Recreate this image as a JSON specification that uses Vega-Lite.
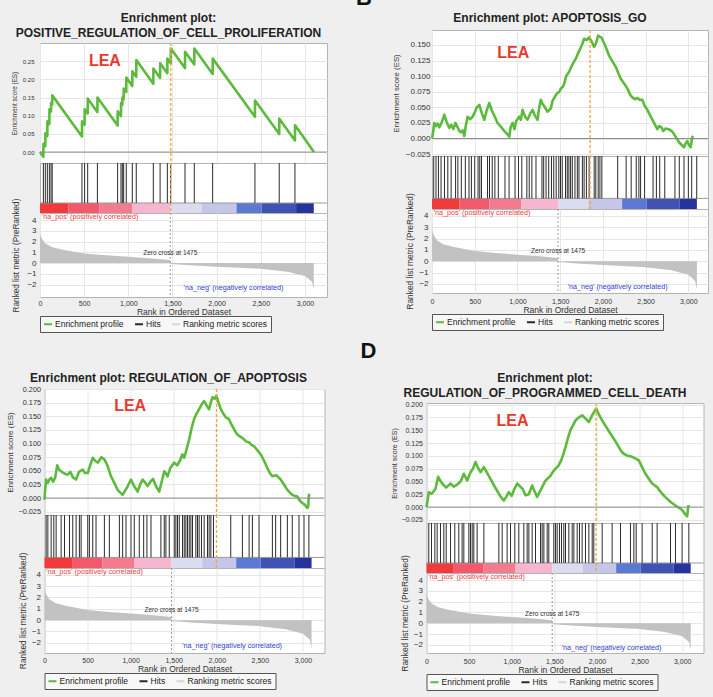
{
  "$schema": "https://vega.github.io/schema/vega-lite/v6.json",
  "background": "#efefef",
  "padding": {"left": 6, "top": -13, "right": 4, "bottom": 12},
  "spacing": 7,
  "center": true,
  "datasets": {
    "es": [
      {"panel":"A","rank":0,"es":0},{"panel":"A","rank":38,"es":-0.013},{"panel":"A","rank":39,"es":0.023},{"panel":"A","rank":60,"es":0.016},{"panel":"A","rank":61,"es":0.052},{"panel":"A","rank":83,"es":0.044},{"panel":"A","rank":84,"es":0.085},{"panel":"A","rank":106,"es":0.077},{"panel":"A","rank":107,"es":0.118},{"panel":"A","rank":125,"es":0.112},{"panel":"A","rank":126,"es":0.135},{"panel":"A","rank":138,"es":0.131},{"panel":"A","rank":139,"es":0.156},{"panel":"A","rank":475,"es":0.043},{"panel":"A","rank":476,"es":0.085},{"panel":"A","rank":505,"es":0.075},{"panel":"A","rank":506,"es":0.118},{"panel":"A","rank":540,"es":0.106},{"panel":"A","rank":541,"es":0.147},{"panel":"A","rank":650,"es":0.110},{"panel":"A","rank":651,"es":0.150},{"panel":"A","rank":879,"es":0.073},{"panel":"A","rank":880,"es":0.112},{"panel":"A","rank":917,"es":0.099},{"panel":"A","rank":918,"es":0.135},{"panel":"A","rank":932,"es":0.130},{"panel":"A","rank":933,"es":0.150},{"panel":"A","rank":947,"es":0.145},{"panel":"A","rank":948,"es":0.175},{"panel":"A","rank":977,"es":0.165},{"panel":"A","rank":978,"es":0.205},{"panel":"A","rank":1045,"es":0.182},{"panel":"A","rank":1046,"es":0.222},{"panel":"A","rank":1090,"es":0.207},{"panel":"A","rank":1091,"es":0.253},{"panel":"A","rank":1283,"es":0.188},{"panel":"A","rank":1284,"es":0.230},{"panel":"A","rank":1360,"es":0.204},{"panel":"A","rank":1361,"es":0.244},{"panel":"A","rank":1442,"es":0.217},{"panel":"A","rank":1443,"es":0.257},{"panel":"A","rank":1480,"es":0.244},{"panel":"A","rank":1481,"es":0.285},{"panel":"A","rank":1642,"es":0.231},{"panel":"A","rank":1643,"es":0.276},{"panel":"A","rank":1747,"es":0.241},{"panel":"A","rank":1748,"es":0.285},{"panel":"A","rank":1955,"es":0.215},{"panel":"A","rank":1956,"es":0.257},{"panel":"A","rank":2434,"es":0.097},{"panel":"A","rank":2435,"es":0.142},{"panel":"A","rank":2709,"es":0.050},{"panel":"A","rank":2710,"es":0.092},{"panel":"A","rank":2887,"es":0.032},{"panel":"A","rank":2888,"es":0.074},{"panel":"A","rank":3102,"es":0.0},
      {"panel":"B","rank":0,"es":0},{"panel":"B","rank":15,"es":0.012},{"panel":"B","rank":27,"es":0.025},{"panel":"B","rank":45,"es":0.02},{"panel":"B","rank":66,"es":0.024},{"panel":"B","rank":85,"es":0.018},{"panel":"B","rank":105,"es":0.023},{"panel":"B","rank":125,"es":0.03},{"panel":"B","rank":144,"es":0.038},{"panel":"B","rank":170,"es":0.027},{"panel":"B","rank":203,"es":0.017},{"panel":"B","rank":225,"es":0.022},{"panel":"B","rank":250,"es":0.015},{"panel":"B","rank":275,"es":0.025},{"panel":"B","rank":300,"es":0.018},{"panel":"B","rank":320,"es":0.012},{"panel":"B","rank":339,"es":0.01},{"panel":"B","rank":360,"es":0.013},{"panel":"B","rank":378,"es":0.004},{"panel":"B","rank":395,"es":0.02},{"panel":"B","rank":417,"es":0.035},{"panel":"B","rank":445,"es":0.031},{"panel":"B","rank":475,"es":0.035},{"panel":"B","rank":500,"es":0.042},{"panel":"B","rank":525,"es":0.05},{"panel":"B","rank":553,"es":0.054},{"panel":"B","rank":585,"es":0.04},{"panel":"B","rank":612,"es":0.03},{"panel":"B","rank":640,"es":0.045},{"panel":"B","rank":670,"es":0.057},{"panel":"B","rank":700,"es":0.045},{"panel":"B","rank":735,"es":0.035},{"panel":"B","rank":767,"es":0.025},{"panel":"B","rank":800,"es":0.02},{"panel":"B","rank":840,"es":0.013},{"panel":"B","rank":875,"es":0.008},{"panel":"B","rank":904,"es":0.003},{"panel":"B","rank":920,"es":0.018},{"panel":"B","rank":943,"es":0.025},{"panel":"B","rank":965,"es":0.015},{"panel":"B","rank":985,"es":0.028},{"panel":"B","rank":1021,"es":0.035},{"panel":"B","rank":1040,"es":0.03},{"panel":"B","rank":1060,"es":0.046},{"panel":"B","rank":1090,"es":0.035},{"panel":"B","rank":1118,"es":0.03},{"panel":"B","rank":1150,"es":0.04},{"panel":"B","rank":1176,"es":0.046},{"panel":"B","rank":1200,"es":0.038},{"panel":"B","rank":1235,"es":0.03},{"panel":"B","rank":1255,"es":0.05},{"panel":"B","rank":1274,"es":0.062},{"panel":"B","rank":1295,"es":0.055},{"panel":"B","rank":1313,"es":0.052},{"panel":"B","rank":1350,"es":0.043},{"panel":"B","rank":1391,"es":0.048},{"panel":"B","rank":1410,"es":0.06},{"panel":"B","rank":1430,"es":0.065},{"panel":"B","rank":1460,"es":0.072},{"panel":"B","rank":1490,"es":0.075},{"panel":"B","rank":1508,"es":0.08},{"panel":"B","rank":1530,"es":0.083},{"panel":"B","rank":1547,"es":0.088},{"panel":"B","rank":1570,"es":0.1},{"panel":"B","rank":1605,"es":0.107},{"panel":"B","rank":1640,"es":0.118},{"panel":"B","rank":1683,"es":0.128},{"panel":"B","rank":1710,"es":0.137},{"panel":"B","rank":1741,"es":0.146},{"panel":"B","rank":1760,"es":0.152},{"panel":"B","rank":1780,"es":0.16},{"panel":"B","rank":1810,"es":0.158},{"panel":"B","rank":1839,"es":0.162},{"panel":"B","rank":1870,"es":0.155},{"panel":"B","rank":1897,"es":0.147},{"panel":"B","rank":1920,"es":0.153},{"panel":"B","rank":1944,"es":0.165},{"panel":"B","rank":1965,"es":0.163},{"panel":"B","rank":1983,"es":0.162},{"panel":"B","rank":2030,"es":0.148},{"panel":"B","rank":2072,"es":0.133},{"panel":"B","rank":2110,"es":0.124},{"panel":"B","rank":2150,"es":0.115},{"panel":"B","rank":2180,"es":0.105},{"panel":"B","rank":2209,"es":0.096},{"panel":"B","rank":2250,"es":0.088},{"panel":"B","rank":2287,"es":0.08},{"panel":"B","rank":2320,"es":0.07},{"panel":"B","rank":2345,"es":0.066},{"panel":"B","rank":2375,"es":0.063},{"panel":"B","rank":2404,"es":0.065},{"panel":"B","rank":2430,"es":0.062},{"panel":"B","rank":2462,"es":0.062},{"panel":"B","rank":2490,"es":0.052},{"panel":"B","rank":2520,"es":0.046},{"panel":"B","rank":2580,"es":0.03},{"panel":"B","rank":2637,"es":0.015},{"panel":"B","rank":2660,"es":0.02},{"panel":"B","rank":2685,"es":0.018},{"panel":"B","rank":2705,"es":0.012},{"panel":"B","rank":2735,"es":0.016},{"panel":"B","rank":2770,"es":0.015},{"panel":"B","rank":2813,"es":0.011},{"panel":"B","rank":2850,"es":0.003},{"panel":"B","rank":2891,"es":-0.006},{"panel":"B","rank":2920,"es":-0.01},{"panel":"B","rank":2949,"es":-0.014},{"panel":"B","rank":2968,"es":-0.008},{"panel":"B","rank":2988,"es":-0.004},{"panel":"B","rank":3005,"es":-0.01},{"panel":"B","rank":3027,"es":-0.014},{"panel":"B","rank":3045,"es":0.002},{"panel":"B","rank":3058,"es":0.004},
      {"panel":"C","rank":0,"es":-0.003},{"panel":"C","rank":5,"es":0.01},{"panel":"C","rank":19,"es":0.034},{"panel":"C","rank":40,"es":0.028},{"panel":"C","rank":60,"es":0.035},{"panel":"C","rank":77,"es":0.037},{"panel":"C","rank":100,"es":0.03},{"panel":"C","rank":125,"es":0.038},{"panel":"C","rank":147,"es":0.06},{"panel":"C","rank":170,"es":0.052},{"panel":"C","rank":193,"es":0.049},{"panel":"C","rank":230,"es":0.045},{"panel":"C","rank":270,"es":0.043},{"panel":"C","rank":300,"es":0.048},{"panel":"C","rank":330,"es":0.038},{"panel":"C","rank":367,"es":0.034},{"panel":"C","rank":400,"es":0.048},{"panel":"C","rank":444,"es":0.052},{"panel":"C","rank":470,"es":0.046},{"panel":"C","rank":502,"es":0.046},{"panel":"C","rank":530,"es":0.06},{"panel":"C","rank":560,"es":0.074},{"panel":"C","rank":590,"es":0.068},{"panel":"C","rank":620,"es":0.065},{"panel":"C","rank":660,"es":0.075},{"panel":"C","rank":695,"es":0.071},{"panel":"C","rank":730,"es":0.06},{"panel":"C","rank":772,"es":0.04},{"panel":"C","rank":810,"es":0.028},{"panel":"C","rank":849,"es":0.015},{"panel":"C","rank":880,"es":0.01},{"panel":"C","rank":907,"es":0.006},{"panel":"C","rank":940,"es":0.015},{"panel":"C","rank":960,"es":0.02},{"panel":"C","rank":1004,"es":0.034},{"panel":"C","rank":1040,"es":0.022},{"panel":"C","rank":1081,"es":0.012},{"panel":"C","rank":1110,"es":0.025},{"panel":"C","rank":1139,"es":0.034},{"panel":"C","rank":1170,"es":0.028},{"panel":"C","rank":1197,"es":0.022},{"panel":"C","rank":1230,"es":0.03},{"panel":"C","rank":1260,"es":0.035},{"panel":"C","rank":1300,"es":0.02},{"panel":"C","rank":1332,"es":0.012},{"panel":"C","rank":1360,"es":0.03},{"panel":"C","rank":1390,"es":0.049},{"panel":"C","rank":1410,"es":0.045},{"panel":"C","rank":1429,"es":0.04},{"panel":"C","rank":1460,"es":0.055},{"panel":"C","rank":1506,"es":0.065},{"panel":"C","rank":1540,"es":0.06},{"panel":"C","rank":1570,"es":0.068},{"panel":"C","rank":1600,"es":0.08},{"panel":"C","rank":1622,"es":0.074},{"panel":"C","rank":1650,"es":0.09},{"panel":"C","rank":1680,"es":0.108},{"panel":"C","rank":1710,"es":0.13},{"panel":"C","rank":1737,"es":0.145},{"panel":"C","rank":1765,"es":0.155},{"panel":"C","rank":1795,"es":0.163},{"panel":"C","rank":1825,"es":0.172},{"panel":"C","rank":1853,"es":0.178},{"panel":"C","rank":1880,"es":0.17},{"panel":"C","rank":1911,"es":0.163},{"panel":"C","rank":1930,"es":0.175},{"panel":"C","rank":1950,"es":0.185},{"panel":"C","rank":1975,"es":0.182},{"panel":"C","rank":1995,"es":0.188},{"panel":"C","rank":2020,"es":0.175},{"panel":"C","rank":2046,"es":0.163},{"panel":"C","rank":2075,"es":0.155},{"panel":"C","rank":2104,"es":0.148},{"panel":"C","rank":2140,"es":0.145},{"panel":"C","rank":2170,"es":0.135},{"panel":"C","rank":2201,"es":0.126},{"panel":"C","rank":2230,"es":0.118},{"panel":"C","rank":2259,"es":0.114},{"panel":"C","rank":2300,"es":0.11},{"panel":"C","rank":2340,"es":0.104},{"panel":"C","rank":2375,"es":0.102},{"panel":"C","rank":2400,"es":0.098},{"panel":"C","rank":2432,"es":0.095},{"panel":"C","rank":2470,"es":0.088},{"panel":"C","rank":2510,"es":0.08},{"panel":"C","rank":2550,"es":0.068},{"panel":"C","rank":2587,"es":0.055},{"panel":"C","rank":2620,"es":0.045},{"panel":"C","rank":2645,"es":0.04},{"panel":"C","rank":2690,"es":0.042},{"panel":"C","rank":2741,"es":0.034},{"panel":"C","rank":2780,"es":0.025},{"panel":"C","rank":2819,"es":0.015},{"panel":"C","rank":2850,"es":0.01},{"panel":"C","rank":2876,"es":0.006},{"panel":"C","rank":2905,"es":0.004},{"panel":"C","rank":2934,"es":0.003},{"panel":"C","rank":2960,"es":-0.004},{"panel":"C","rank":2992,"es":-0.009},{"panel":"C","rank":3020,"es":-0.012},{"panel":"C","rank":3050,"es":-0.018},{"panel":"C","rank":3060,"es":-0.016},{"panel":"C","rank":3069,"es":0.006},{"panel":"C","rank":3080,"es":0.004},
      {"panel":"D","rank":0,"es":0},{"panel":"D","rank":27,"es":0.029},{"panel":"D","rank":60,"es":0.026},{"panel":"D","rank":80,"es":0.03},{"panel":"D","rank":106,"es":0.036},{"panel":"D","rank":137,"es":0.059},{"panel":"D","rank":160,"es":0.052},{"panel":"D","rank":184,"es":0.046},{"panel":"D","rank":230,"es":0.038},{"panel":"D","rank":282,"es":0.046},{"panel":"D","rank":320,"es":0.04},{"panel":"D","rank":360,"es":0.044},{"panel":"D","rank":400,"es":0.05},{"panel":"D","rank":438,"es":0.065},{"panel":"D","rank":477,"es":0.052},{"panel":"D","rank":516,"es":0.068},{"panel":"D","rank":545,"es":0.075},{"panel":"D","rank":575,"es":0.088},{"panel":"D","rank":600,"es":0.078},{"panel":"D","rank":634,"es":0.068},{"panel":"D","rank":673,"es":0.078},{"panel":"D","rank":700,"es":0.07},{"panel":"D","rank":750,"es":0.055},{"panel":"D","rank":800,"es":0.04},{"panel":"D","rank":849,"es":0.026},{"panel":"D","rank":880,"es":0.018},{"panel":"D","rank":907,"es":0.013},{"panel":"D","rank":935,"es":0.02},{"panel":"D","rank":966,"es":0.029},{"panel":"D","rank":1000,"es":0.022},{"panel":"D","rank":1030,"es":0.035},{"panel":"D","rank":1064,"es":0.046},{"panel":"D","rank":1100,"es":0.04},{"panel":"D","rank":1130,"es":0.035},{"panel":"D","rank":1162,"es":0.023},{"panel":"D","rank":1200,"es":0.025},{"panel":"D","rank":1240,"es":0.042},{"panel":"D","rank":1270,"es":0.03},{"panel":"D","rank":1298,"es":0.02},{"panel":"D","rank":1330,"es":0.03},{"panel":"D","rank":1357,"es":0.039},{"panel":"D","rank":1390,"es":0.05},{"panel":"D","rank":1416,"es":0.055},{"panel":"D","rank":1450,"es":0.06},{"panel":"D","rank":1480,"es":0.068},{"panel":"D","rank":1513,"es":0.075},{"panel":"D","rank":1545,"es":0.08},{"panel":"D","rank":1572,"es":0.088},{"panel":"D","rank":1600,"es":0.1},{"panel":"D","rank":1631,"es":0.117},{"panel":"D","rank":1660,"es":0.135},{"panel":"D","rank":1689,"es":0.15},{"panel":"D","rank":1720,"es":0.16},{"panel":"D","rank":1748,"es":0.169},{"panel":"D","rank":1790,"es":0.175},{"panel":"D","rank":1826,"es":0.179},{"panel":"D","rank":1870,"es":0.172},{"panel":"D","rank":1905,"es":0.166},{"panel":"D","rank":1940,"es":0.178},{"panel":"D","rank":1965,"es":0.185},{"panel":"D","rank":1990,"es":0.192},{"panel":"D","rank":2025,"es":0.18},{"panel":"D","rank":2061,"es":0.169},{"panel":"D","rank":2110,"es":0.156},{"panel":"D","rank":2159,"es":0.143},{"panel":"D","rank":2210,"es":0.13},{"panel":"D","rank":2257,"es":0.117},{"panel":"D","rank":2290,"es":0.108},{"panel":"D","rank":2315,"es":0.104},{"panel":"D","rank":2360,"es":0.1},{"panel":"D","rank":2413,"es":0.098},{"panel":"D","rank":2450,"es":0.095},{"panel":"D","rank":2491,"es":0.091},{"panel":"D","rank":2530,"es":0.078},{"panel":"D","rank":2569,"es":0.065},{"panel":"D","rank":2610,"es":0.055},{"panel":"D","rank":2648,"es":0.046},{"panel":"D","rank":2680,"es":0.042},{"panel":"D","rank":2706,"es":0.039},{"panel":"D","rank":2735,"es":0.032},{"panel":"D","rank":2765,"es":0.026},{"panel":"D","rank":2800,"es":0.02},{"panel":"D","rank":2843,"es":0.013},{"panel":"D","rank":2880,"es":0.008},{"panel":"D","rank":2921,"es":0.003},{"panel":"D","rank":2950,"es":0.0},{"panel":"D","rank":2980,"es":-0.003},{"panel":"D","rank":3010,"es":-0.008},{"panel":"D","rank":3040,"es":-0.015},{"panel":"D","rank":3058,"es":-0.018},{"panel":"D","rank":3070,"es":0.0},{"panel":"D","rank":3078,"es":0.004}
    ],
    "hits": [
      {"panel":"A","rank":38},{"panel":"A","rank":60},{"panel":"A","rank":83},{"panel":"A","rank":106},{"panel":"A","rank":125},{"panel":"A","rank":138},{"panel":"A","rank":475},{"panel":"A","rank":505},{"panel":"A","rank":540},{"panel":"A","rank":650},{"panel":"A","rank":879},{"panel":"A","rank":917},{"panel":"A","rank":932},{"panel":"A","rank":947},{"panel":"A","rank":977},{"panel":"A","rank":1045},{"panel":"A","rank":1090},{"panel":"A","rank":1283},{"panel":"A","rank":1360},{"panel":"A","rank":1442},{"panel":"A","rank":1480},{"panel":"A","rank":1642},{"panel":"A","rank":1747},{"panel":"A","rank":1955},{"panel":"A","rank":2434},{"panel":"A","rank":2709},{"panel":"A","rank":2887},
      {"panel":"B","rank":20},{"panel":"B","rank":47},{"panel":"B","rank":75},{"panel":"B","rank":106},{"panel":"B","rank":146},{"panel":"B","rank":185},{"panel":"B","rank":224},{"panel":"B","rank":276},{"panel":"B","rank":303},{"panel":"B","rank":343},{"panel":"B","rank":390},{"panel":"B","rank":433},{"panel":"B","rank":461},{"panel":"B","rank":500},{"panel":"B","rank":539},{"panel":"B","rank":559},{"panel":"B","rank":579},{"panel":"B","rank":650},{"panel":"B","rank":673},{"panel":"B","rank":705},{"panel":"B","rank":736},{"panel":"B","rank":776},{"panel":"B","rank":854},{"panel":"B","rank":902},{"panel":"B","rank":972},{"panel":"B","rank":1012},{"panel":"B","rank":1051},{"panel":"B","rank":1110},{"panel":"B","rank":1138},{"panel":"B","rank":1169},{"panel":"B","rank":1217},{"panel":"B","rank":1287},{"panel":"B","rank":1307},{"panel":"B","rank":1335},{"panel":"B","rank":1366},{"panel":"B","rank":1398},{"panel":"B","rank":1425},{"panel":"B","rank":1453},{"panel":"B","rank":1484},{"panel":"B","rank":1504},{"panel":"B","rank":1524},{"panel":"B","rank":1563},{"panel":"B","rank":1583},{"panel":"B","rank":1602},{"panel":"B","rank":1622},{"panel":"B","rank":1642},{"panel":"B","rank":1673},{"panel":"B","rank":1701},{"panel":"B","rank":1720},{"panel":"B","rank":1760},{"panel":"B","rank":1780},{"panel":"B","rank":1807},{"panel":"B","rank":1839},{"panel":"B","rank":1898},{"panel":"B","rank":1917},{"panel":"B","rank":1945},{"panel":"B","rank":1965},{"panel":"B","rank":1988},{"panel":"B","rank":2173},{"panel":"B","rank":2272},{"panel":"B","rank":2331},{"panel":"B","rank":2390},{"panel":"B","rank":2421},{"panel":"B","rank":2441},{"panel":"B","rank":2488},{"panel":"B","rank":2587},{"panel":"B","rank":2626},{"panel":"B","rank":2665},{"panel":"B","rank":2724},{"panel":"B","rank":2843},{"panel":"B","rank":2894},{"panel":"B","rank":2949},{"panel":"B","rank":3000},{"panel":"B","rank":3039},{"panel":"B","rank":3098},
      {"panel":"C","rank":19},{"panel":"C","rank":39},{"panel":"C","rank":77},{"panel":"C","rank":108},{"panel":"C","rank":135},{"panel":"C","rank":193},{"panel":"C","rank":232},{"panel":"C","rank":290},{"panel":"C","rank":328},{"panel":"C","rank":367},{"panel":"C","rank":405},{"panel":"C","rank":425},{"panel":"C","rank":502},{"panel":"C","rank":521},{"panel":"C","rank":560},{"panel":"C","rank":598},{"panel":"C","rank":695},{"panel":"C","rank":753},{"panel":"C","rank":869},{"panel":"C","rank":907},{"panel":"C","rank":946},{"panel":"C","rank":1004},{"panel":"C","rank":1042},{"panel":"C","rank":1100},{"panel":"C","rank":1151},{"panel":"C","rank":1189},{"panel":"C","rank":1236},{"panel":"C","rank":1351},{"panel":"C","rank":1390},{"panel":"C","rank":1409},{"panel":"C","rank":1448},{"panel":"C","rank":1506},{"panel":"C","rank":1525},{"panel":"C","rank":1544},{"panel":"C","rank":1564},{"panel":"C","rank":1602},{"panel":"C","rank":1622},{"panel":"C","rank":1641},{"panel":"C","rank":1660},{"panel":"C","rank":1680},{"panel":"C","rank":1699},{"panel":"C","rank":1718},{"panel":"C","rank":1757},{"panel":"C","rank":1776},{"panel":"C","rank":1795},{"panel":"C","rank":1822},{"panel":"C","rank":1853},{"panel":"C","rank":1892},{"panel":"C","rank":1911},{"panel":"C","rank":1931},{"panel":"C","rank":1961},{"panel":"C","rank":2162},{"panel":"C","rank":2297},{"panel":"C","rank":2375},{"panel":"C","rank":2413},{"panel":"C","rank":2490},{"panel":"C","rank":2645},{"panel":"C","rank":2683},{"panel":"C","rank":2741},{"panel":"C","rank":2819},{"panel":"C","rank":2876},{"panel":"C","rank":2954},{"panel":"C","rank":3012},{"panel":"C","rank":3069},
      {"panel":"D","rank":27},{"panel":"D","rank":59},{"panel":"D","rank":98},{"panel":"D","rank":125},{"panel":"D","rank":164},{"panel":"D","rank":203},{"panel":"D","rank":231},{"panel":"D","rank":282},{"panel":"D","rank":332},{"panel":"D","rank":379},{"panel":"D","rank":418},{"panel":"D","rank":438},{"panel":"D","rank":497},{"panel":"D","rank":516},{"panel":"D","rank":536},{"panel":"D","rank":555},{"panel":"D","rank":594},{"panel":"D","rank":673},{"panel":"D","rank":849},{"panel":"D","rank":888},{"panel":"D","rank":946},{"panel":"D","rank":986},{"panel":"D","rank":1036},{"panel":"D","rank":1083},{"panel":"D","rank":1142},{"panel":"D","rank":1181},{"panel":"D","rank":1201},{"panel":"D","rank":1240},{"panel":"D","rank":1279},{"panel":"D","rank":1338},{"panel":"D","rank":1357},{"panel":"D","rank":1377},{"panel":"D","rank":1416},{"panel":"D","rank":1435},{"panel":"D","rank":1494},{"panel":"D","rank":1513},{"panel":"D","rank":1533},{"panel":"D","rank":1560},{"panel":"D","rank":1584},{"panel":"D","rank":1611},{"panel":"D","rank":1631},{"panel":"D","rank":1670},{"panel":"D","rank":1709},{"panel":"D","rank":1729},{"panel":"D","rank":1768},{"panel":"D","rank":1795},{"panel":"D","rank":1826},{"panel":"D","rank":1865},{"panel":"D","rank":1905},{"panel":"D","rank":1944},{"panel":"D","rank":1963},{"panel":"D","rank":2061},{"panel":"D","rank":2178},{"panel":"D","rank":2276},{"panel":"D","rank":2393},{"panel":"D","rank":2433},{"panel":"D","rank":2460},{"panel":"D","rank":2530},{"panel":"D","rank":2648},{"panel":"D","rank":2706},{"panel":"D","rank":2863},{"panel":"D","rank":2921},{"panel":"D","rank":2999},{"panel":"D","rank":3078}
    ],
    "metric": [
      {"rank":0,"metric":2.8},{"rank":8,"metric":2.5},{"rank":19,"metric":2.3},{"rank":57,"metric":1.85},{"rank":132,"metric":1.5},{"rank":245,"metric":1.27},{"rank":500,"metric":0.9},{"rank":750,"metric":0.72},{"rank":1000,"metric":0.58},{"rank":1264,"metric":0.43},{"rank":1474,"metric":0.28},{"rank":1476,"metric":-0.08},{"rank":1700,"metric":-0.2},{"rank":2000,"metric":-0.34},{"rank":2500,"metric":-0.53},{"rank":2800,"metric":-0.8},{"rank":3000,"metric":-1.2},{"rank":3080,"metric":-1.74},{"rank":3100,"metric":-2.5}
    ],
    "bar": [
      {"start":0,"end":320,"level":1},{"start":320,"end":670,"level":2},{"start":670,"end":1045,"level":3},{"start":1045,"end":1475,"level":4},{"start":1475,"end":1830,"level":5},{"start":1830,"end":2225,"level":6},{"start":2225,"end":2510,"level":7},{"start":2510,"end":2900,"level":8},{"start":2900,"end":3100,"level":9}
    ]
  },
  "vconcat": [
    {
      "title": {"text": "B", "fontSize": 22, "color": "#111111", "dx": 4, "offset": 0},
      "spacing": 63,
      "resolve": {"scale": {"color": "independent"}, "legend": {"color": "independent"}},
      "hconcat": [
        {
          "bounds": "flush",
          "spacing": 0,
          "vconcat": [
            {"width": 287, "height": 33, "view": {"stroke": null, "fill": null}, "data": {"values": [{}]},
             "mark": {"type": "text", "text": ["Enrichment plot:", "POSITIVE_REGULATION_OF_CELL_PROLIFERATION"], "fontSize": 12, "fontWeight": "bold", "color": "#222222", "lineHeight": 15, "baseline": "middle", "dx": -15, "dy": -8.5}},
            {
              "width": 287, "height": 120,
              "layer": [
                {"data": {"name": "es"}, "transform": [{"filter": "datum.panel == 'A'"}],
                 "mark": {"type": "line", "strokeWidth": 2.6, "strokeJoin": "round"},
                 "encoding": {
                   "x": {"field": "rank", "type": "quantitative", "scale": {"domain": [0, 3250], "nice": false, "zero": false}, "axis": {"grid": true, "labels": false, "title": null, "tickCount": 30, "values": [0,500,1000,1500,2000,2500,3000]}},
                   "y": {"field": "es", "type": "quantitative", "scale": {"domain": [-0.03, 0.3], "nice": false, "zero": false}, "axis": {"values": [0,0.05,0.1,0.15,0.2,0.25], "tickCount": 30, "format": ".2f", "title": "Enrichment score (ES)", "labelFontSize": 6, "titleFontSize": 6.3, "labelPadding": 6, "titlePadding": 5, "grid": true}},
                   "color": {"datum": "Enrichment profile", "scale": {"domain": ["Enrichment profile","Hits","Ranking metric scores"], "range": ["#5cba3c","#2b2b2b","#d6d6d6"]}, "legend": {"title": null, "offset": 0}}
                 }},
                {"data": {"values": [{}]}, "mark": {"type": "rule", "color": "#8a8a8a"}, "encoding": {"y": {"datum": 0, "type": "quantitative"}}},
                {"data": {"values": [{}]}, "mark": {"type": "rule", "color": "#f5a53a", "strokeDash": [3,2], "strokeWidth": 1.3}, "encoding": {"x": {"datum": 1481, "type": "quantitative"}}},
                {"data": {"values": [{}]}, "mark": {"type": "text", "text": "LEA", "fontSize": 16, "fontWeight": "bold", "color": "#e8392c"}, "encoding": {"x": {"datum": 735, "type": "quantitative"}, "y": {"datum": 0.25, "type": "quantitative"}}}
              ]
            },
            {
              "width": 287, "height": 50,
              "layer": [
                {"data": {"name": "bar"}, "mark": {"type": "rect"},
                 "encoding": {
                   "x": {"field": "start", "type": "quantitative", "scale": {"domain": [0, 3250], "nice": false, "zero": false}, "axis": null},
                   "x2": {"field": "end"},
                   "y": {"datum": 0, "type": "quantitative", "scale": {"domain": [0, 1], "nice": false}, "axis": null},
                   "y2": {"datum": 0.2},
                   "fill": {"field": "level", "type": "ordinal", "scale": {"domain": [1,2,3,4,5,6,7,8,9], "range": ["#f03a3c","#f2596a","#f47b8e","#f6b6cf","#dcdcf0","#c6c6e8","#5b79d2","#4052b4","#26329e"]}, "legend": null}
                 }},
                {"data": {"values": [{}]}, "mark": {"type": "rule", "color": "#9a9a9a"}, "encoding": {"y": {"datum": 0.2, "type": "quantitative", "axis": null}}},
                {"data": {"name": "hits"}, "transform": [{"filter": "datum.panel == 'A'"}],
                 "mark": {"type": "rule", "strokeWidth": 1},
                 "encoding": {
                   "x": {"field": "rank", "type": "quantitative", "axis": null},
                   "y": {"datum": 0.2, "type": "quantitative", "axis": null},
                   "y2": {"datum": 1},
                   "color": {"datum": "Hits"}
                 }},
                {"data": {"values": [{}]}, "mark": {"type": "rule", "color": "#f5a53a", "strokeDash": [3,2], "strokeWidth": 1.3}, "encoding": {"x": {"datum": 1481, "type": "quantitative", "axis": null}}}
              ]
            },
            {
              "width": 287, "height": 84,
              "layer": [
                {"data": {"name": "metric"}, "mark": {"type": "area", "color": "#c2c2c2"},
                 "encoding": {
                   "x": {"field": "rank", "type": "quantitative", "scale": {"domain": [0, 3250], "nice": false, "zero": false}, "axis": {"values": [0,500,1000,1500,2000,2500,3000], "tickCount": 30, "format": ",.0f", "grid": true, "labelFontSize": 7, "labelPadding": 2, "title": "Rank in Ordered Dataset", "titleFontSize": 8.5, "titlePadding": 1}},
                   "y": {"field": "metric", "type": "quantitative", "scale": {"domain": [-3.15, 4.65], "nice": false, "zero": false}, "axis": {"values": [-2,-1,0,1,2,3,4], "tickCount": 30, "format": "d", "grid": true, "labelFontSize": 8, "labelPadding": 4, "title": "Ranked list metric (PreRanked)", "titleFontSize": 8.2, "titlePadding": 6}},
                   "y2": {"datum": 0}
                 }},
                {"data": {"values": [{}]}, "mark": {"type": "rule", "color": "#9a9a9a", "strokeDash": [2,2]}, "encoding": {"x": {"datum": 1475, "type": "quantitative"}}},
                {"data": {"values": [{}]}, "mark": {"type": "text", "text": "Zero cross at 1475", "fontSize": 6.5, "color": "#333333"}, "encoding": {"x": {"datum": 1475, "type": "quantitative"}, "y": {"datum": 0.93, "type": "quantitative"}}},
                {"data": {"values": [{}]}, "mark": {"type": "text", "text": "'na_pos' (positively correlated)", "align": "left", "fontSize": 7.2, "color": "#ee3b3b"}, "encoding": {"x": {"datum": 20, "type": "quantitative"}, "y": {"datum": 4.3, "type": "quantitative"}}},
                {"data": {"values": [{}]}, "mark": {"type": "text", "text": "'na_neg' (negatively correlated)", "align": "right", "fontSize": 7.2, "color": "#3340d0"}, "encoding": {"x": {"datum": 2757, "type": "quantitative"}, "y": {"datum": -2.3, "type": "quantitative"}}}
              ]
            }
          ]
        },
        {
          "bounds": "flush",
          "spacing": 0,
          "vconcat": [
            {"width": 276, "height": 20, "view": {"stroke": null, "fill": null}, "data": {"values": [{}]},
             "mark": {"type": "text", "text": "Enrichment plot: APOPTOSIS_GO", "fontSize": 12, "fontWeight": "bold", "color": "#222222", "baseline": "middle", "dx": -20, "dy": -2}},
            {
              "width": 276, "height": 126,
              "layer": [
                {"data": {"name": "es"}, "transform": [{"filter": "datum.panel == 'B'"}],
                 "mark": {"type": "line", "strokeWidth": 2.6, "strokeJoin": "round"},
                 "encoding": {
                   "x": {"field": "rank", "type": "quantitative", "scale": {"domain": [0, 3230], "nice": false, "zero": false}, "axis": {"grid": true, "labels": false, "title": null, "tickCount": 30, "values": [0,500,1000,1500,2000,2500,3000]}},
                   "y": {"field": "es", "type": "quantitative", "scale": {"domain": [-0.028, 0.174], "nice": false, "zero": false}, "axis": {"values": [-0.025,0,0.025,0.05,0.075,0.1,0.125,0.15], "tickCount": 30, "format": ".3f", "title": "Enrichment score (ES)", "labelFontSize": 8, "titleFontSize": 7.8, "labelPadding": 2, "titlePadding": 5, "grid": true}},
                   "color": {"datum": "Enrichment profile", "scale": {"domain": ["Enrichment profile","Hits","Ranking metric scores"], "range": ["#5cba3c","#2b2b2b","#d6d6d6"]}, "legend": {"title": null, "offset": 0}}
                 }},
                {"data": {"values": [{}]}, "mark": {"type": "rule", "color": "#8a8a8a"}, "encoding": {"y": {"datum": 0, "type": "quantitative"}}},
                {"data": {"values": [{}]}, "mark": {"type": "rule", "color": "#f5a53a", "strokeDash": [3,2], "strokeWidth": 1.3}, "encoding": {"x": {"datum": 1850, "type": "quantitative"}}},
                {"data": {"values": [{}]}, "mark": {"type": "text", "text": "LEA", "fontSize": 16, "fontWeight": "bold", "color": "#e8392c"}, "encoding": {"x": {"datum": 952, "type": "quantitative"}, "y": {"datum": 0.137, "type": "quantitative"}}}
              ]
            },
            {
              "width": 276, "height": 53,
              "layer": [
                {"data": {"name": "bar"}, "mark": {"type": "rect"},
                 "encoding": {
                   "x": {"field": "start", "type": "quantitative", "scale": {"domain": [0, 3230], "nice": false, "zero": false}, "axis": null},
                   "x2": {"field": "end"},
                   "y": {"datum": 0, "type": "quantitative", "scale": {"domain": [0, 1], "nice": false}, "axis": null},
                   "y2": {"datum": 0.2},
                   "fill": {"field": "level", "type": "ordinal", "scale": {"domain": [1,2,3,4,5,6,7,8,9], "range": ["#f03a3c","#f2596a","#f47b8e","#f6b6cf","#dcdcf0","#c6c6e8","#5b79d2","#4052b4","#26329e"]}, "legend": null}
                 }},
                {"data": {"values": [{}]}, "mark": {"type": "rule", "color": "#9a9a9a"}, "encoding": {"y": {"datum": 0.2, "type": "quantitative", "axis": null}}},
                {"data": {"name": "hits"}, "transform": [{"filter": "datum.panel == 'B'"}],
                 "mark": {"type": "rule", "strokeWidth": 1},
                 "encoding": {
                   "x": {"field": "rank", "type": "quantitative", "axis": null},
                   "y": {"datum": 0.2, "type": "quantitative", "axis": null},
                   "y2": {"datum": 1},
                   "color": {"datum": "Hits"}
                 }},
                {"data": {"values": [{}]}, "mark": {"type": "rule", "color": "#f5a53a", "strokeDash": [3,2], "strokeWidth": 1.3}, "encoding": {"x": {"datum": 1850, "type": "quantitative", "axis": null}}}
              ]
            },
            {
              "width": 276, "height": 84,
              "layer": [
                {"data": {"name": "metric"}, "mark": {"type": "area", "color": "#c2c2c2"},
                 "encoding": {
                   "x": {"field": "rank", "type": "quantitative", "scale": {"domain": [0, 3230], "nice": false, "zero": false}, "axis": {"values": [0,500,1000,1500,2000,2500,3000], "tickCount": 30, "format": ",.0f", "grid": true, "labelFontSize": 7, "labelPadding": 4, "title": "Rank in Ordered Dataset", "titleFontSize": 8.5, "titlePadding": 1}},
                   "y": {"field": "metric", "type": "quantitative", "scale": {"domain": [-2.8, 4.6], "nice": false, "zero": false}, "axis": {"values": [-2,-1,0,1,2,3,4], "tickCount": 30, "format": "d", "grid": true, "labelFontSize": 8, "labelPadding": 4, "title": "Ranked list metric (PreRanked)", "titleFontSize": 8.4, "titlePadding": 4}},
                   "y2": {"datum": 0}
                 }},
                {"data": {"values": [{}]}, "mark": {"type": "rule", "color": "#9a9a9a", "strokeDash": [2,2]}, "encoding": {"x": {"datum": 1475, "type": "quantitative"}}},
                {"data": {"values": [{}]}, "mark": {"type": "text", "text": "Zero cross at 1475", "fontSize": 6.5, "color": "#333333"}, "encoding": {"x": {"datum": 1475, "type": "quantitative"}, "y": {"datum": 0.9, "type": "quantitative"}}},
                {"data": {"values": [{}]}, "mark": {"type": "text", "text": "'na_pos' (positively correlated)", "align": "left", "fontSize": 7.2, "color": "#ee3b3b"}, "encoding": {"x": {"datum": 20, "type": "quantitative"}, "y": {"datum": 4.26, "type": "quantitative"}}},
                {"data": {"values": [{}]}, "mark": {"type": "text", "text": "'na_neg' (negatively correlated)", "align": "right", "fontSize": 7.2, "color": "#3340d0"}, "encoding": {"x": {"datum": 2757, "type": "quantitative"}, "y": {"datum": -2.28, "type": "quantitative"}}}
              ]
            }
          ]
        }
      ]
    },
    {
      "title": {"text": "D", "fontSize": 22, "color": "#111111", "dx": 13, "offset": 8},
      "spacing": 64,
      "resolve": {"scale": {"color": "independent"}, "legend": {"color": "independent"}},
      "hconcat": [
        {
          "bounds": "flush",
          "spacing": 0,
          "vconcat": [
            {"width": 280, "height": 18, "view": {"stroke": null, "fill": null}, "data": {"values": [{}]},
             "mark": {"type": "text", "text": "Enrichment plot: REGULATION_OF_APOPTOSIS", "fontSize": 12, "fontWeight": "bold", "color": "#222222", "baseline": "middle", "dx": -16, "dy": -2}},
            {
              "width": 280, "height": 126,
              "layer": [
                {"data": {"name": "es"}, "transform": [{"filter": "datum.panel == 'C'"}],
                 "mark": {"type": "line", "strokeWidth": 2.6, "strokeJoin": "round"},
                 "encoding": {
                   "x": {"field": "rank", "type": "quantitative", "scale": {"domain": [0, 3250], "nice": false, "zero": false}, "axis": {"grid": true, "labels": false, "title": null, "tickCount": 30, "values": [0,500,1000,1500,2000,2500,3000]}},
                   "y": {"field": "es", "type": "quantitative", "scale": {"domain": [-0.031, 0.2], "nice": false, "zero": false}, "axis": {"values": [-0.025,0,0.025,0.05,0.075,0.1,0.125,0.15,0.175,0.2], "tickCount": 30, "format": ".3f", "title": "Enrichment score (ES)", "labelFontSize": 7.3, "titleFontSize": 8, "labelPadding": 4, "titlePadding": 3, "grid": true}},
                   "color": {"datum": "Enrichment profile", "scale": {"domain": ["Enrichment profile","Hits","Ranking metric scores"], "range": ["#5cba3c","#2b2b2b","#d6d6d6"]}, "legend": {"title": null, "offset": 0}}
                 }},
                {"data": {"values": [{}]}, "mark": {"type": "rule", "color": "#8a8a8a"}, "encoding": {"y": {"datum": 0, "type": "quantitative"}}},
                {"data": {"values": [{}]}, "mark": {"type": "rule", "color": "#f5a53a", "strokeDash": [3,2], "strokeWidth": 1.3}, "encoding": {"x": {"datum": 1996, "type": "quantitative"}}},
                {"data": {"values": [{}]}, "mark": {"type": "text", "text": "LEA", "fontSize": 16, "fontWeight": "bold", "color": "#e8392c"}, "encoding": {"x": {"datum": 994, "type": "quantitative"}, "y": {"datum": 0.168, "type": "quantitative"}}}
              ]
            },
            {
              "width": 280, "height": 53,
              "layer": [
                {"data": {"name": "bar"}, "mark": {"type": "rect"},
                 "encoding": {
                   "x": {"field": "start", "type": "quantitative", "scale": {"domain": [0, 3250], "nice": false, "zero": false}, "axis": null},
                   "x2": {"field": "end"},
                   "y": {"datum": 0, "type": "quantitative", "scale": {"domain": [0, 1], "nice": false}, "axis": null},
                   "y2": {"datum": 0.2},
                   "fill": {"field": "level", "type": "ordinal", "scale": {"domain": [1,2,3,4,5,6,7,8,9], "range": ["#f03a3c","#f2596a","#f47b8e","#f6b6cf","#dcdcf0","#c6c6e8","#5b79d2","#4052b4","#26329e"]}, "legend": null}
                 }},
                {"data": {"values": [{}]}, "mark": {"type": "rule", "color": "#9a9a9a"}, "encoding": {"y": {"datum": 0.2, "type": "quantitative", "axis": null}}},
                {"data": {"name": "hits"}, "transform": [{"filter": "datum.panel == 'C'"}],
                 "mark": {"type": "rule", "strokeWidth": 1},
                 "encoding": {
                   "x": {"field": "rank", "type": "quantitative", "axis": null},
                   "y": {"datum": 0.2, "type": "quantitative", "axis": null},
                   "y2": {"datum": 1},
                   "color": {"datum": "Hits"}
                 }},
                {"data": {"values": [{}]}, "mark": {"type": "rule", "color": "#f5a53a", "strokeDash": [3,2], "strokeWidth": 1.3}, "encoding": {"x": {"datum": 1996, "type": "quantitative", "axis": null}}}
              ]
            },
            {
              "width": 280, "height": 85,
              "layer": [
                {"data": {"name": "metric"}, "mark": {"type": "area", "color": "#c2c2c2"},
                 "encoding": {
                   "x": {"field": "rank", "type": "quantitative", "scale": {"domain": [0, 3250], "nice": false, "zero": false}, "axis": {"values": [0,500,1000,1500,2000,2500,3000], "tickCount": 30, "format": ",.0f", "grid": true, "labelFontSize": 7, "labelPadding": 3, "title": "Rank in Ordered Dataset", "titleFontSize": 8.5, "titlePadding": 1}},
                   "y": {"field": "metric", "type": "quantitative", "scale": {"domain": [-2.9, 4.6], "nice": false, "zero": false}, "axis": {"values": [-2,-1,0,1,2,3,4], "tickCount": 30, "format": "d", "grid": true, "labelFontSize": 8, "labelPadding": 4, "title": "Ranked list metric (PreRanked)", "titleFontSize": 8.4, "titlePadding": 3.5}},
                   "y2": {"datum": 0}
                 }},
                {"data": {"values": [{}]}, "mark": {"type": "rule", "color": "#9a9a9a", "strokeDash": [2,2]}, "encoding": {"x": {"datum": 1475, "type": "quantitative"}}},
                {"data": {"values": [{}]}, "mark": {"type": "text", "text": "Zero cross at 1475", "fontSize": 6.5, "color": "#333333"}, "encoding": {"x": {"datum": 1475, "type": "quantitative"}, "y": {"datum": 0.88, "type": "quantitative"}}},
                {"data": {"values": [{}]}, "mark": {"type": "text", "text": "'na_pos' (positively correlated)", "align": "left", "fontSize": 7.2, "color": "#ee3b3b"}, "encoding": {"x": {"datum": 20, "type": "quantitative"}, "y": {"datum": 4.28, "type": "quantitative"}}},
                {"data": {"values": [{}]}, "mark": {"type": "text", "text": "'na_neg' (negatively correlated)", "align": "right", "fontSize": 7.2, "color": "#3340d0"}, "encoding": {"x": {"datum": 2757, "type": "quantitative"}, "y": {"datum": -2.3, "type": "quantitative"}}}
              ]
            }
          ]
        },
        {
          "bounds": "flush",
          "spacing": 0,
          "vconcat": [
            {"width": 277, "height": 32, "view": {"stroke": null, "fill": null}, "data": {"values": [{}]},
             "mark": {"type": "text", "text": ["Enrichment plot:", "REGULATION_OF_PROGRAMMED_CELL_DEATH"], "fontSize": 12, "fontWeight": "bold", "color": "#222222", "lineHeight": 15, "baseline": "middle", "dx": -20, "dy": -9}},
            {
              "width": 277, "height": 120,
              "layer": [
                {"data": {"name": "es"}, "transform": [{"filter": "datum.panel == 'D'"}],
                 "mark": {"type": "line", "strokeWidth": 2.6, "strokeJoin": "round"},
                 "encoding": {
                   "x": {"field": "rank", "type": "quantitative", "scale": {"domain": [0, 3250], "nice": false, "zero": false}, "axis": {"grid": true, "labels": false, "title": null, "tickCount": 30, "values": [0,500,1000,1500,2000,2500,3000]}},
                   "y": {"field": "es", "type": "quantitative", "scale": {"domain": [-0.031, 0.203], "nice": false, "zero": false}, "axis": {"values": [-0.025,0,0.025,0.05,0.075,0.1,0.125,0.15,0.175,0.2], "tickCount": 30, "format": ".3f", "title": "Enrichment score (ES)", "labelFontSize": 7, "titleFontSize": 7, "labelPadding": 4, "titlePadding": 3.5, "grid": true}},
                   "color": {"datum": "Enrichment profile", "scale": {"domain": ["Enrichment profile","Hits","Ranking metric scores"], "range": ["#5cba3c","#2b2b2b","#d6d6d6"]}, "legend": {"title": null, "offset": 0}}
                 }},
                {"data": {"values": [{}]}, "mark": {"type": "rule", "color": "#8a8a8a"}, "encoding": {"y": {"datum": 0, "type": "quantitative"}}},
                {"data": {"values": [{}]}, "mark": {"type": "rule", "color": "#f5a53a", "strokeDash": [3,2], "strokeWidth": 1.3}, "encoding": {"x": {"datum": 1990, "type": "quantitative"}}},
                {"data": {"values": [{}]}, "mark": {"type": "text", "text": "LEA", "fontSize": 16, "fontWeight": "bold", "color": "#e8392c"}, "encoding": {"x": {"datum": 1009, "type": "quantitative"}, "y": {"datum": 0.168, "type": "quantitative"}}}
              ]
            },
            {
              "width": 277, "height": 50,
              "layer": [
                {"data": {"name": "bar"}, "mark": {"type": "rect"},
                 "encoding": {
                   "x": {"field": "start", "type": "quantitative", "scale": {"domain": [0, 3250], "nice": false, "zero": false}, "axis": null},
                   "x2": {"field": "end"},
                   "y": {"datum": 0, "type": "quantitative", "scale": {"domain": [0, 1], "nice": false}, "axis": null},
                   "y2": {"datum": 0.2},
                   "fill": {"field": "level", "type": "ordinal", "scale": {"domain": [1,2,3,4,5,6,7,8,9], "range": ["#f03a3c","#f2596a","#f47b8e","#f6b6cf","#dcdcf0","#c6c6e8","#5b79d2","#4052b4","#26329e"]}, "legend": null}
                 }},
                {"data": {"values": [{}]}, "mark": {"type": "rule", "color": "#9a9a9a"}, "encoding": {"y": {"datum": 0.2, "type": "quantitative", "axis": null}}},
                {"data": {"name": "hits"}, "transform": [{"filter": "datum.panel == 'D'"}],
                 "mark": {"type": "rule", "strokeWidth": 1},
                 "encoding": {
                   "x": {"field": "rank", "type": "quantitative", "axis": null},
                   "y": {"datum": 0.2, "type": "quantitative", "axis": null},
                   "y2": {"datum": 1},
                   "color": {"datum": "Hits"}
                 }},
                {"data": {"values": [{}]}, "mark": {"type": "rule", "color": "#f5a53a", "strokeDash": [3,2], "strokeWidth": 1.3}, "encoding": {"x": {"datum": 1990, "type": "quantitative", "axis": null}}}
              ]
            },
            {
              "width": 277, "height": 80,
              "layer": [
                {"data": {"name": "metric"}, "mark": {"type": "area", "color": "#c2c2c2"},
                 "encoding": {
                   "x": {"field": "rank", "type": "quantitative", "scale": {"domain": [0, 3250], "nice": false, "zero": false}, "axis": {"values": [0,500,1000,1500,2000,2500,3000], "tickCount": 30, "format": ",.0f", "grid": true, "labelFontSize": 7, "labelPadding": 4, "title": "Rank in Ordered Dataset", "titleFontSize": 8.5, "titlePadding": 1}},
                   "y": {"field": "metric", "type": "quantitative", "scale": {"domain": [-2.75, 4.65], "nice": false, "zero": false}, "axis": {"values": [-2,-1,0,1,2,3,4], "tickCount": 30, "format": "d", "grid": true, "labelFontSize": 8, "labelPadding": 4, "title": "Ranked list metric (PreRanked)", "titleFontSize": 8.4, "titlePadding": 4}},
                   "y2": {"datum": 0}
                 }},
                {"data": {"values": [{}]}, "mark": {"type": "rule", "color": "#9a9a9a", "strokeDash": [2,2]}, "encoding": {"x": {"datum": 1475, "type": "quantitative"}}},
                {"data": {"values": [{}]}, "mark": {"type": "text", "text": "Zero cross at 1475", "fontSize": 6.5, "color": "#333333"}, "encoding": {"x": {"datum": 1475, "type": "quantitative"}, "y": {"datum": 0.86, "type": "quantitative"}}},
                {"data": {"values": [{}]}, "mark": {"type": "text", "text": "'na_pos' (positively correlated)", "align": "left", "fontSize": 7.2, "color": "#ee3b3b"}, "encoding": {"x": {"datum": 20, "type": "quantitative"}, "y": {"datum": 4.3, "type": "quantitative"}}},
                {"data": {"values": [{}]}, "mark": {"type": "text", "text": "'na_neg' (negatively correlated)", "align": "right", "fontSize": 7.2, "color": "#3340d0"}, "encoding": {"x": {"datum": 2757, "type": "quantitative"}, "y": {"datum": -2.3, "type": "quantitative"}}}
              ]
            }
          ]
        }
      ]
    }
  ],
  "resolve": {"scale": {"color": "independent"}, "legend": {"color": "independent"}},
  "config": {
    "font": "Liberation Sans",
    "view": {"stroke": "#b4b4b4", "fill": "#ffffff"},
    "axis": {"labelColor": "#333333", "titleColor": "#333333", "titleFontWeight": "normal", "gridColor": "#e6e6e6", "domain": false, "ticks": false, "tickSize": 0, "labelOverlap": false, "labelBound": false, "labelFlush": false},
    "axisY": {"minExtent": 0},
    "axisX": {"minExtent": 0},
    "title": {"fontSize": 12, "fontWeight": "bold", "color": "#222222", "lineHeight": 15, "anchor": "middle"},
    "legend": {"orient": "bottom", "direction": "horizontal", "symbolType": "stroke", "symbolStrokeWidth": 2, "symbolSize": 64, "labelFontSize": 8.5, "labelColor": "#222222", "padding": 3, "strokeColor": "#555555", "fillColor": "#f8f8f8", "columnPadding": 7, "labelOffset": 2}
  }
}
